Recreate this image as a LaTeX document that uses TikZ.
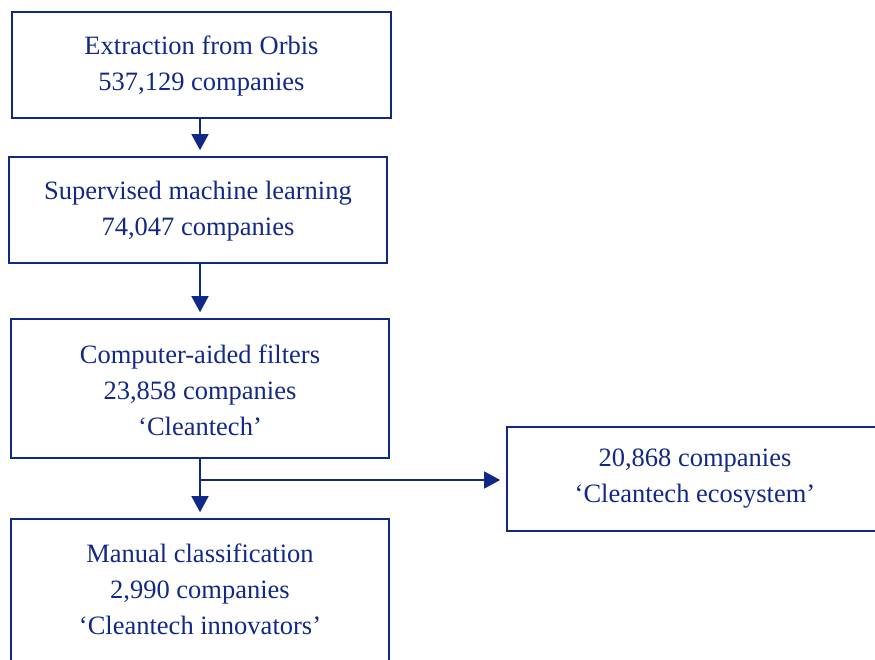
\documentclass[tikz,border=0pt]{standalone}
\usepackage{fontspec}
\setmainfont{Liberation Serif}
\usetikzlibrary{arrows.meta}
\definecolor{navy}{RGB}{17,40,135}
\tikzset{
  box/.style={draw=navy, line width=1.6pt, rectangle, inner sep=0pt},
  txt/.style={text=navy, align=center, font=\fontsize{26.5}{36}\selectfont},
  flow/.style={draw=navy, line width=1.5pt, -{Triangle[width=17pt,length=16pt]}, shorten >=6pt}
}
\begin{document}
\begin{tikzpicture}[x=1pt,y=-1pt]
\useasboundingbox (0,0) rectangle (875,660);
\clip (0,0) rectangle (875,660);
\node[box, minimum width=379pt, minimum height=106pt] (b1) at (201.5,65) {};
\node[txt] (t1) at (201.5,66) {Extraction from Orbis\\537,129 companies};
\node[box, minimum width=378pt, minimum height=106pt] (b2) at (198,210) {};
\node[txt] (t2) at (198,211) {Supervised machine learning\\74,047 companies};
\node[box, minimum width=378pt, minimum height=139pt] (b3) at (200,388.5) {};
\node[txt] (t3) at (200,390) {Computer-aided filters\\23,858 companies\\‘Cleantech’};
\node[box, minimum width=378pt, minimum height=200pt] (b4) at (200,619) {};
\node[txt] (t4) at (200,589) {Manual classification\\2,990 companies\\‘Cleantech innovators’};
\node[box, minimum width=376pt, minimum height=104pt] (b5) at (695,479) {};
\node[txt] (t5) at (695,479) {20,868 companies\\‘Cleantech ecosystem’};
\coordinate (j) at (200,480);
\draw[flow] (b1.south -| 200,0) -- (b2.north -| 200,0);
\draw[flow] (b2.south -| 200,0) -- (b3.north -| 200,0);
\draw[flow] (b3.south -| 200,0) -- (b4.north -| 200,0);
\draw[flow, line width=1.2pt] (j) -- (b5.west |- j);
\end{tikzpicture}
\end{document}
